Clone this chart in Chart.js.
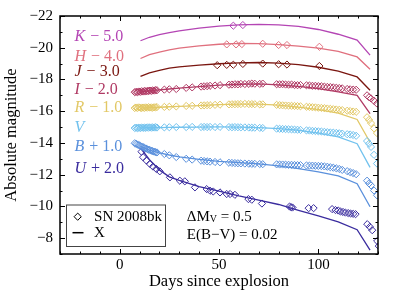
<!DOCTYPE html>
<html>
<head>
<meta charset="utf-8">
<script src="https://cdn.jsdelivr.net/npm/chart.js@4.4.0/dist/chart.umd.min.js"></script>
<style>
  html, body { margin: 0; padding: 0; background: #fff; }
  canvas { display: block; }
</style>
</head>
<body>
<canvas id="lc" width="399" height="299"></canvas>
<script>
// SN 2008bk photometry vs model X, bands shifted for display

const FONT = "'Liberation Serif', 'DejaVu Serif', serif"

const xMajorTicks = [0, 50, 100]
const yMajorTicks = [-22, -20, -18, -16, -14, -12, -10, -8]

const bandNames = ['K', 'H', 'J', 'I', 'R', 'V', 'B', 'U']
const bandShifts = [' − 5.0', ' − 4.0', ' − 3.0', ' − 2.0', ' − 1.0', '', ' + 1.0', ' + 2.0']
const bandColors = ['#b445b4', '#e0707e', '#7a1610', '#b03a64', '#e2c866', '#72c2ee', '#5a90dc', '#3a2c9e']
const labelDay = -22.7
const labelMags = [-20.69, -19.42, -18.5, -17.33, -16.19, -14.97, -13.75, -12.35]

const noteDay = 33.8
const noteMags = [-9.34, -8.18]
const legendLabels = ['SN 2008bk', 'X']

// model light curves
const modelDays = [10.5, 15, 20, 25, 30, 40, 50, 60, 70, 80, 90, 100, 110, 119.5, 126]
const modelK = [-20.44, -20.66, -20.82, -20.95, -21.06, -21.24, -21.36, -21.44, -21.47, -21.44, -21.35, -21.15, -20.85, -20.48, -19.53]
const modelH = [-19.32, -19.56, -19.72, -19.86, -19.97, -20.12, -20.22, -20.27, -20.26, -20.20, -20.10, -19.97, -19.77, -19.42, -18.65]
const modelJ = [-18.20, -18.42, -18.57, -18.71, -18.80, -18.90, -18.99, -19.05, -19.07, -19.03, -18.93, -18.77, -18.52, -18.16, -17.32]
const modelI = [-17.22, -17.28, -17.34, -17.40, -17.45, -17.55, -17.64, -17.70, -17.72, -17.66, -17.56, -17.42, -17.22, -17.00, -15.84]
const modelR = [-16.20, -16.22, -16.25, -16.28, -16.30, -16.35, -16.41, -16.45, -16.44, -16.38, -16.26, -16.10, -15.88, -15.48, -14.04]
const modelV = [-14.95, -14.96, -14.97, -14.98, -14.99, -15.00, -15.01, -15.00, -14.97, -14.90, -14.80, -14.62, -14.38, -13.95, -12.46]
const modelB = [-13.78, -13.55, -13.38, -13.24, -13.12, -12.96, -12.84, -12.76, -12.68, -12.56, -12.38, -12.18, -11.92, -11.43, -9.98]
const modelU = [-13.68, -12.95, -12.30, -11.86, -11.64, -11.25, -10.96, -10.66, -10.40, -10.12, -9.75, -9.40, -9.02, -8.53, -7.25]

// observed photometry
const kDays = [57.2, 62.0]
const kMags = [-21.39, -21.43]
const hDays = [53.9, 58.6, 61.5, 72.0, 80.0, 84.2, 100.5]
const hMags = [-20.21, -20.21, -20.23, -20.25, -20.17, -20.17, -20.06]
const jDays = [49.1, 53.9, 57.2, 62.0, 72.0, 80.0, 84.2, 100.5]
const jMags = [-18.90, -18.92, -18.93, -18.98, -19.00, -18.96, -18.94, -18.85]

const bvriDays = [7.6, 8.3, 9.0, 9.7, 10.4, 11.1, 11.8, 12.5, 13.2, 13.9, 14.6, 15.3, 16.0, 16.7, 17.4, 18.1, 18.8,
  22.5, 25, 28.5, 33.5, 36.5, 41, 42.5, 44, 45.5, 48, 50.5, 55, 56.5, 58, 59.5, 61, 63, 65, 66.5, 68, 70.5, 72,
  79, 80.5, 82, 83.5, 85, 86.5, 88, 89.5, 91, 94, 95.5, 97, 98.5, 100, 101.5, 103, 104.5, 106, 107.5, 109, 110.5,
  112, 114.5, 116, 117.5, 119, 124.5, 125.5, 126.5, 128, 129.5]
const iMags = [-17.20, -17.22, -17.20, -17.24, -17.22, -17.26, -17.24, -17.27, -17.25, -17.28, -17.27, -17.30, -17.28, -17.31, -17.30, -17.33, -17.32,
  -17.36, -17.38, -17.40, -17.47, -17.50, -17.55, -17.57, -17.58, -17.60, -17.62, -17.64, -17.67, -17.68, -17.70, -17.69, -17.72, -17.71, -17.72, -17.74, -17.73, -17.72, -17.74,
  -17.70, -17.69, -17.70, -17.68, -17.67, -17.68, -17.65, -17.64, -17.65, -17.63, -17.62, -17.60, -17.60, -17.58, -17.57, -17.55, -17.53, -17.52, -17.50, -17.48, -17.46,
  -17.44, -17.40, -17.38, -17.36, -17.35, -17.00, -16.88, -16.80, -16.65, -16.48]
const rMags = [-16.20, -16.23, -16.21, -16.24, -16.22, -16.20, -16.23, -16.21, -16.24, -16.22, -16.25, -16.23, -16.24, -16.22, -16.25, -16.24, -16.26,
  -16.27, -16.28, -16.30, -16.33, -16.34, -16.36, -16.37, -16.38, -16.38, -16.40, -16.41, -16.43, -16.44, -16.44, -16.45, -16.45, -16.46, -16.45, -16.45, -16.44, -16.43, -16.43,
  -16.40, -16.38, -16.37, -16.36, -16.35, -16.34, -16.33, -16.32, -16.31, -16.28, -16.27, -16.25, -16.24, -16.22, -16.21, -16.19, -16.17, -16.15, -16.13, -16.11, -16.09,
  -16.07, -16.03, -16.01, -15.98, -15.96, -15.62, -15.45, -15.25, -14.92, -14.62]
const vMags = [-14.94, -14.96, -14.93, -14.96, -14.94, -14.97, -14.95, -14.97, -14.95, -14.98, -14.96, -14.98, -14.96, -14.98, -14.97, -14.99, -14.97,
  -14.98, -14.99, -15.00, -15.00, -15.01, -15.00, -15.01, -15.00, -15.01, -15.00, -15.01, -15.00, -14.99, -15.00, -14.99, -14.98, -14.98, -14.97, -14.96, -14.96, -14.95, -14.94,
  -14.90, -14.89, -14.88, -14.87, -14.86, -14.85, -14.84, -14.83, -14.82, -14.79, -14.78, -14.76, -14.75, -14.73, -14.72, -14.70, -14.68, -14.66, -14.65, -14.63, -14.61,
  -14.59, -14.55, -14.53, -14.50, -14.45, -14.12, -13.95, -13.75, -13.25, -12.70]
const bMags = [-13.98, -13.94, -13.90, -13.86, -13.82, -13.77, -13.73, -13.69, -13.65, -13.61, -13.58, -13.55, -13.51, -13.48, -13.45, -13.42, -13.40,
  -13.30, -13.22, -13.11, -13.00, -12.95, -12.88, -12.86, -12.84, -12.82, -12.80, -12.78, -12.75, -12.74, -12.73, -12.72, -12.71, -12.70, -12.69, -12.68, -12.68, -12.67, -12.66,
  -12.65, -12.64, -12.64, -12.63, -12.62, -12.62, -12.61, -12.60, -12.60, -12.58, -12.57, -12.57, -12.56, -12.55, -12.54, -12.52, -12.50, -12.47, -12.44, -12.40, -12.36,
  -12.30, -12.22, -12.16, -12.10, -12.03, -11.62, -11.45, -11.32, -11.00, -10.70]
const uDays = [11.0, 11.8, 13.5, 15.2, 16.8, 18.5, 20.2, 25.3, 30.3, 32.8, 37.9, 43.8, 45.5, 47.1, 50.5, 53.9, 55.6, 58.0,
  64.8, 66.5, 71.6, 85.5, 86.3, 87.0, 95.1, 97.6, 106.9, 108.6, 110.0, 111.1, 112.4, 113.6, 115.0, 116.2, 117.5, 118.7,
  124.6, 125.9, 127.1, 129.6, 130.4]
const uMags = [-13.45, -13.10, -12.89, -12.68, -12.51, -12.36, -12.21, -11.83, -11.62, -11.58, -11.20, -11.09, -10.99, -10.94, -10.88, -10.78, -10.78, -10.73,
  -10.46, -10.42, -10.18, -9.99, -9.95, -9.93, -9.89, -9.89, -9.83, -9.77, -9.74, -9.68, -9.65, -9.61, -9.58, -9.55, -9.53, -9.51,
  -8.88, -8.71, -8.50, -7.82, -7.50]

const models = [modelK, modelH, modelJ, modelI, modelR, modelV, modelB, modelU]
const obs = [
  [kDays, kMags], [hDays, hMags], [jDays, jMags], [bvriDays, iMags],
  [bvriDays, rMags], [bvriDays, vMags], [bvriDays, bMags], [uDays, uMags]
]

const pairs = (xs, ys) => xs.map((d, i) => ({ x: d, y: ys[i] }))
const minus = v => v < 0 ? '−' + Math.abs(v) : String(v)

const datasets = []
obs.forEach(([days, mags], i) => {
  datasets.push({
    data: pairs(days, mags),
    pointStyle: 'rectRot',
    pointRadius: 3.6,
    borderWidth: 1,
    borderColor: bandColors[i],
    backgroundColor: 'rgba(0,0,0,0)',
    order: 0
  })
})
models.forEach((mags, i) => {
  datasets.push({
    data: pairs(modelDays, mags),
    showLine: true,
    pointRadius: 0,
    borderWidth: 1.3,
    borderColor: bandColors[i],
    tension: 0,
    order: 1
  })
})

function drawDiamond(ctx, x, y, r) {
  ctx.beginPath()
  ctx.moveTo(x - r, y)
  ctx.lineTo(x, y - r)
  ctx.lineTo(x + r, y)
  ctx.lineTo(x, y + r)
  ctx.closePath()
  ctx.stroke()
}

const decor = {
  id: 'decor',
  afterDraw(chart) {
    const { ctx, chartArea: a, scales: { x, y } } = chart
    ctx.save()

    // frame + inward ticks on all sides
    ctx.strokeStyle = '#000'
    ctx.lineWidth = 1.5
    ctx.strokeRect(a.left, a.top, a.right - a.left, a.bottom - a.top)
    ctx.lineWidth = 1
    ctx.beginPath()
    for (let v = Math.ceil(x.min / 10) * 10; v <= x.max; v += 10) {
      const len = xMajorTicks.includes(v) ? 5 : 2.5
      const px = Math.round(x.getPixelForValue(v)) + 0.5
      ctx.moveTo(px, a.bottom); ctx.lineTo(px, a.bottom - len)
      ctx.moveTo(px, a.top); ctx.lineTo(px, a.top + len)
    }
    for (let v = Math.ceil(y.min); v <= y.max; v += 1) {
      const len = yMajorTicks.includes(v) ? 5 : 2.5
      const py = Math.round(y.getPixelForValue(v)) + 0.5
      ctx.moveTo(a.left, py); ctx.lineTo(a.left + len, py)
      ctx.moveTo(a.right, py); ctx.lineTo(a.right - len, py)
    }
    ctx.stroke()

    // band labels
    ctx.textBaseline = 'middle'
    bandNames.forEach((name, i) => {
      const px = x.getPixelForValue(labelDay)
      const py = y.getPixelForValue(labelMags[i])
      ctx.fillStyle = bandColors[i]
      ctx.font = `italic 16px ${FONT}`
      ctx.fillText(name, px, py)
      const w = ctx.measureText(name).width
      ctx.font = `16px ${FONT}`
      ctx.fillText(bandShifts[i], px + w + 1, py)
    })

    // notes
    ctx.fillStyle = '#000'
    const nx = x.getPixelForValue(noteDay)
    const ny1 = y.getPixelForValue(noteMags[0])
    const ny2 = y.getPixelForValue(noteMags[1])
    ctx.font = `15px ${FONT}`
    ctx.fillText('ΔM', nx, ny1)
    let w = ctx.measureText('ΔM').width
    ctx.font = `10px ${FONT}`
    ctx.fillText('V', nx + w, ny1 + 3)
    w += ctx.measureText('V').width
    ctx.font = `15px ${FONT}`
    ctx.fillText(' = 0.5', nx + w, ny1)
    ctx.fillText('E(B−V) = 0.02', nx, ny2)

    // legend
    const bx = a.left + 6.5, by = a.bottom - 49, bw = 99, bh = 41.5
    ctx.fillStyle = '#fff'
    ctx.fillRect(bx, by, bw, bh)
    ctx.strokeStyle = '#444'
    ctx.lineWidth = 1
    ctx.strokeRect(bx, by, bw, bh)
    ctx.strokeStyle = '#000'
    drawDiamond(ctx, bx + 11.2, by + 11.7, 3.6)
    ctx.lineWidth = 1.5
    ctx.beginPath()
    ctx.moveTo(bx + 6, by + 27.7)
    ctx.lineTo(bx + 17, by + 27.7)
    ctx.stroke()
    ctx.fillStyle = '#000'
    ctx.font = `15px ${FONT}`
    ctx.fillText(legendLabels[0], bx + 27.6, by + 11.7)
    ctx.fillText(legendLabels[1], bx + 27.6, by + 27.7)

    ctx.restore()
  }
}

new Chart(document.getElementById('lc'), {
  type: 'scatter',
  data: { datasets },
  options: {
    responsive: false,
    animation: false,
    devicePixelRatio: 1,
    layout: { padding: { left: 0, right: 21, top: 15, bottom: 0 } },
    plugins: { legend: { display: false }, tooltip: { enabled: false } },
    scales: {
      x: {
        type: 'linear',
        min: -30,
        max: 130,
        afterBuildTicks: s => { s.ticks = xMajorTicks.map(v => ({ value: v })) },
        afterFit: s => { s.height = 45 },
        grid: { display: false, drawTicks: false },
        border: { display: false },
        ticks: { color: '#000', padding: 2, font: { family: FONT, size: 15 }, callback: minus, autoSkip: false, maxRotation: 0 },
        title: { display: true, text: 'Days since explosion', color: '#000', font: { family: FONT, size: 16.5 }, padding: { top: 0, bottom: 7 } }
      },
      y: {
        type: 'linear',
        reverse: true,
        min: -22,
        max: -7,
        afterBuildTicks: s => { s.ticks = yMajorTicks.map(v => ({ value: v })) },
        afterFit: s => { s.width = 60 },
        grid: { display: false, drawTicks: false },
        border: { display: false },
        ticks: { color: '#000', padding: 7, font: { family: FONT, size: 15 }, callback: minus, autoSkip: false },
        title: { display: true, text: 'Absolute magnitude', color: '#000', font: { family: FONT, size: 16.5 }, padding: { top: 2, bottom: 0 } }
      }
    }
  },
  plugins: [decor]
})
</script>
</body>
</html>
